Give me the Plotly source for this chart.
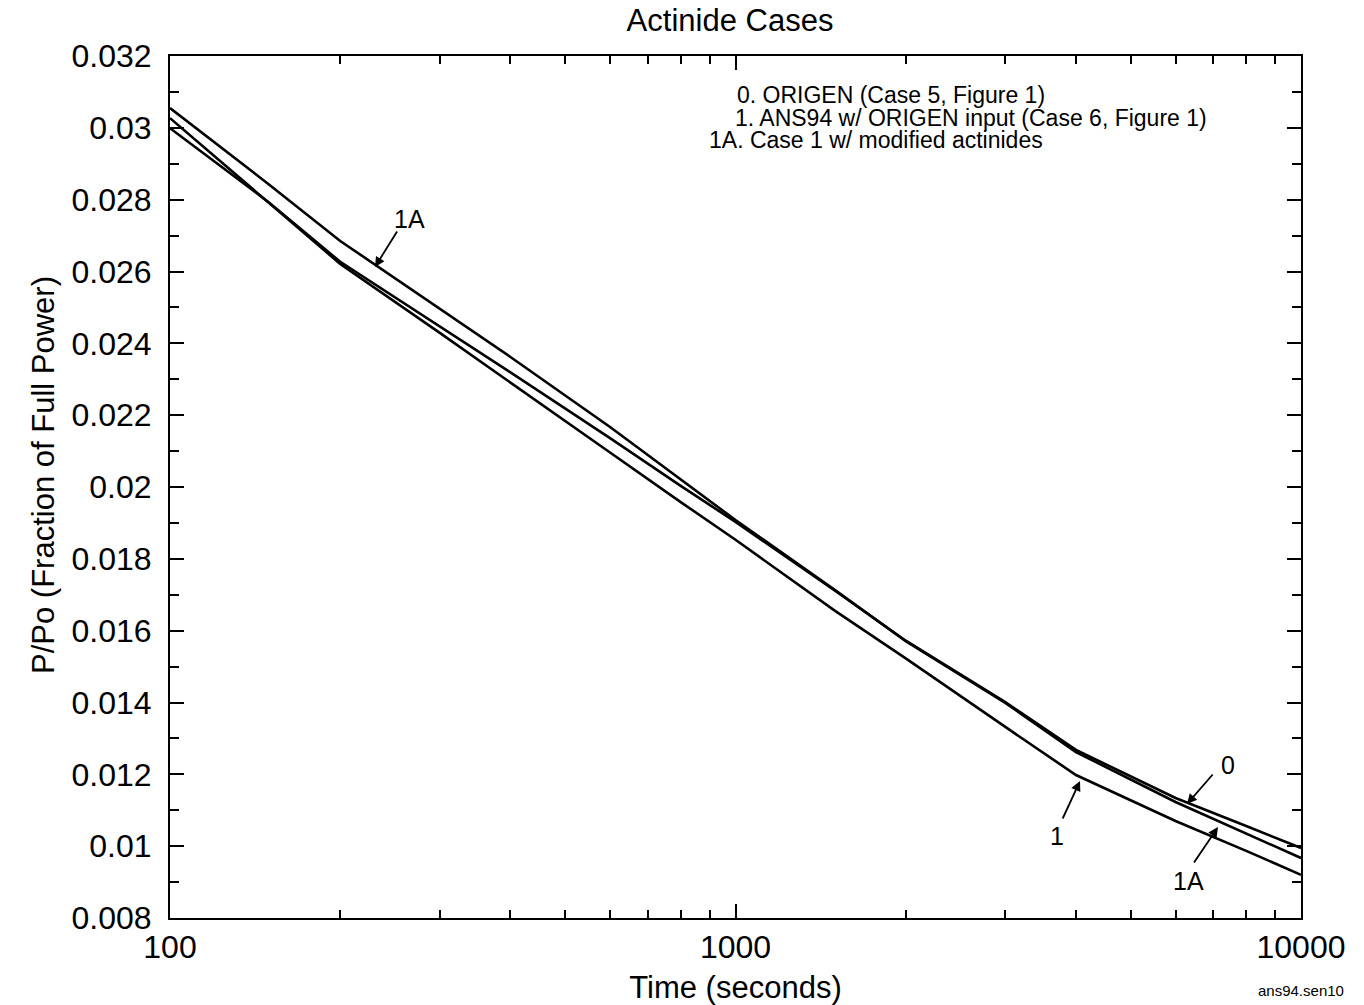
import plotly.graph_objects as go

# ---- data ----
time_s = [100, 150, 200, 300, 400, 600, 800, 1000, 1500, 2000, 3000, 4000, 6000, 8000, 10000]

case0_origen = [0.02999, 0.02791, 0.02627, 0.02448, 0.02319, 0.02136, 0.02003, 0.01903,
                0.01711, 0.01572, 0.01401, 0.01268, 0.01134, 0.01056, 0.00995]
case1_ans94 = [0.03027, 0.02791, 0.02621, 0.02429, 0.02290, 0.02096, 0.01958, 0.01853,
               0.01655, 0.01523, 0.01332, 0.01198, 0.01070, 0.00987, 0.00920]
case1a_mod = [0.03055, 0.02841, 0.02685, 0.02496, 0.02362, 0.02167, 0.02020, 0.01908,
              0.01713, 0.01571, 0.01399, 0.01262, 0.01123, 0.01034, 0.00967]

y_tickvals = [0.008, 0.010, 0.012, 0.014, 0.016, 0.018, 0.020, 0.022, 0.024, 0.026, 0.028, 0.030, 0.032]
y_ticktext = ["0.008", "0.01", "0.012", "0.014", "0.016", "0.018", "0.02", "0.022", "0.024",
              "0.026", "0.028", "0.03", "0.032"]
x_tickvals = [100, 1000, 10000]
x_ticktext = ["100", "1000", "10000"]

legend_lines = ["0. ORIGEN (Case 5, Figure 1)",
                "1. ANS94 w/ ORIGEN input (Case 6, Figure 1)",
                "1A. Case 1 w/ modified actinides"]

FONT = "Liberation Sans, Arial, Helvetica, sans-serif"

fig = go.Figure()
for name, ys in [("0", case0_origen), ("1", case1_ans94), ("1A", case1a_mod)]:
    fig.add_trace(go.Scatter(x=time_s, y=ys, mode="lines", name=name,
                             line=dict(color="black", width=2.6), showlegend=False))

# plot area in pixels: left 170, right 1301, top 56, bottom 918
L, R, T, B = 170, 1301, 56, 918
W, H = R - L, B - T


def px(xp):
    return (xp - L) / W


def py(yp):
    return (B - yp) / H


annotations = []
# legend text block
for txt, xp, yp in zip(legend_lines, [735, 733, 707], [95, 118, 140]):
    annotations.append(dict(text=txt, xref="paper", yref="paper", x=px(xp), y=py(yp),
                            xanchor="left", yanchor="middle", showarrow=False,
                            font=dict(size=23, color="black", family=FONT)))

# curve labels with arrows: (label, text_x, text_y, tail_x, tail_y, tip_x, tip_y)
labels = [("1A", 409, 219, 398, 230, 375, 267),
          ("0", 1228, 765, 1214, 773, 1187, 804),
          ("1", 1057, 836, 1062, 820, 1080, 781),
          ("1A", 1188, 881, 1193, 864, 1218, 827)]
for lab, tx, ty, ax_, ay_, xt, yt in labels:
    annotations.append(dict(text=lab, xref="paper", yref="paper", x=px(tx), y=py(ty),
                            xanchor="center", yanchor="middle", showarrow=False,
                            font=dict(size=25, color="black", family=FONT)))
    annotations.append(dict(text="", xref="paper", yref="paper", x=px(xt), y=py(yt),
                            ax=ax_ - xt, ay=ay_ - yt, axref="pixel", ayref="pixel",
                            showarrow=True, arrowhead=2, arrowsize=1.1, arrowwidth=1.8,
                            arrowcolor="black", standoff=0, startstandoff=0))

# y-axis title placed as rotated text
annotations.append(dict(text="P/Po (Fraction of Full Power)", xref="paper", yref="paper",
                        x=px(43), y=py(475), xanchor="center", yanchor="middle",
                        textangle=-90, showarrow=False,
                        font=dict(size=31, color="black", family=FONT)))

annotations.append(dict(text="ans94.sen10", xref="paper", yref="paper", x=px(1346), y=py(990),
                        xanchor="right", yanchor="middle", showarrow=False,
                        font=dict(size=15, color="black", family=FONT)))

fig.update_layout(
    width=1364, height=1005,
    margin=dict(l=L, r=1364 - R, t=T, b=1005 - B),
    paper_bgcolor="white", plot_bgcolor="white",
    font=dict(family=FONT, color="black", size=32),
    title=dict(text="Actinide Cases", x=730 / 1364, xanchor="center",
               y=1 - 20 / 1005, yanchor="middle", yref="container",
               font=dict(size=31, family=FONT, color="black")),
    annotations=annotations,
)

fig.update_xaxes(
    type="log", range=[2, 4], automargin=False,
    tickvals=x_tickvals, ticktext=x_ticktext,
    ticks="inside", ticklen=14, tickwidth=1.5, tickcolor="black",
    minor=dict(ticks="inside", ticklen=8, tickwidth=1.5, tickcolor="black",
               tickvals=[200, 300, 400, 500, 600, 700, 800, 900,
                         2000, 3000, 4000, 5000, 6000, 7000, 8000, 9000], showgrid=False),
    showline=True, linecolor="black", linewidth=2, mirror="allticks",
    showgrid=False, zeroline=False,
    tickfont=dict(size=32, family=FONT, color="black"),
    ticklabelstandoff=0,
    title=dict(text="Time (seconds)", font=dict(size=31, family=FONT, color="black"), standoff=12),
)
fig.update_yaxes(
    range=[0.008, 0.032], automargin=False,
    tickvals=y_tickvals, ticktext=y_ticktext,
    ticks="inside", ticklen=14, tickwidth=1.5, tickcolor="black",
    minor=dict(ticks="inside", ticklen=9, tickwidth=1.5, tickcolor="black", dtick=0.001, showgrid=False),
    showline=True, linecolor="black", linewidth=2, mirror="allticks",
    showgrid=False, zeroline=False,
    tickfont=dict(size=32, family=FONT, color="black"),
    ticklabelstandoff=10,
)

fig.write_html("out.html")
